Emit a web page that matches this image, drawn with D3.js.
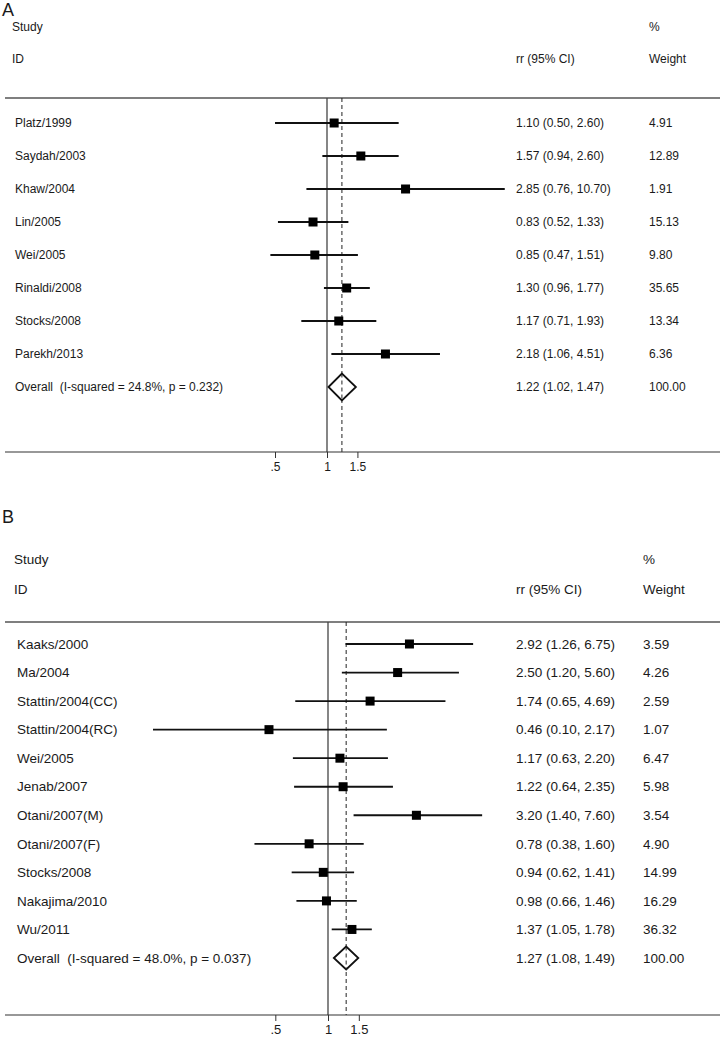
<!DOCTYPE html>
<html><head><meta charset="utf-8">
<script src="https://cdn.jsdelivr.net/npm/d3@7"></script>
<style>body{margin:0;background:#fff}svg{display:block}text{font-family:Arial,"Liberation Sans",sans-serif;fill:#1a1a1a;white-space:pre}</style>
</head><body>
<script>
// ---- Panel A data ----
const studiesA = ["Platz/1999","Saydah/2003","Khaw/2004","Lin/2005","Wei/2005","Rinaldi/2008","Stocks/2008","Parekh/2013"];
const rrA   = [1.10,1.57,2.85,0.83,0.85,1.30,1.17,2.18];
const lowA  = [0.50,0.94,0.76,0.52,0.47,0.96,0.71,1.06];
const highA = [2.60,2.60,10.70,1.33,1.51,1.77,1.93,4.51];
const weightA = ["4.91","12.89","1.91","15.13","9.80","35.65","13.34","6.36"];
const overallA = {label:"Overall  (I-squared = 24.8%, p = 0.232)", rr:1.22, low:1.02, high:1.47, weight:"100.00"};

// ---- Panel B data ----
const studiesB = ["Kaaks/2000","Ma/2004","Stattin/2004(CC)","Stattin/2004(RC)","Wei/2005","Jenab/2007","Otani/2007(M)","Otani/2007(F)","Stocks/2008","Nakajima/2010","Wu/2011"];
const rrB   = [2.92,2.50,1.74,0.46,1.17,1.22,3.20,0.78,0.94,0.98,1.37];
const lowB  = [1.26,1.20,0.65,0.10,0.63,0.64,1.40,0.38,0.62,0.66,1.05];
const highB = [6.75,5.60,4.69,2.17,2.20,2.35,7.60,1.60,1.41,1.46,1.78];
const weightB = ["3.59","4.26","2.59","1.07","6.47","5.98","3.54","4.90","14.99","16.29","36.32"];
const overallB = {label:"Overall  (I-squared = 48.0%, p = 0.037)", rr:1.27, low:1.08, high:1.49, weight:"100.00"};

const tickVals = [0.5, 1, 1.5];
const tickLabels = [".5", "1", "1.5"];

const fmt = d3.format(".2f");
const svg = d3.select("body").append("svg").attr("width",724).attr("height",1047);

function panel(cfg){
  const g = svg.append("g");
  const x = d3.scaleLog().domain([0.1,10]).range([cfg.x1 - cfg.k*Math.LN10, cfg.x1 + cfg.k*Math.LN10]);
  const n = cfg.studies.length;
  const y = d3.scaleLinear().domain([0,n]).range([cfg.rowStart, cfg.rowEnd]);
  const fs = cfg.fs;

  g.append("text").attr("x",cfg.letterX).attr("y",cfg.letterY).attr("font-size",18).text(cfg.letter);
  g.append("text").attr("x",cfg.labX-3).attr("y",cfg.hdr1).attr("dy","0.35em").attr("font-size",fs).text("Study");
  g.append("text").attr("x",cfg.labX-3).attr("y",cfg.hdr2).attr("dy","0.35em").attr("font-size",fs).text("ID");
  g.append("text").attr("x",cfg.valX).attr("y",cfg.hdr2).attr("dy","0.35em").attr("font-size",fs).text("rr (95% CI)");
  g.append("text").attr("x",cfg.wX).attr("y",cfg.hdr1).attr("dy","0.35em").attr("font-size",fs).text("%");
  g.append("text").attr("x",cfg.wX).attr("y",cfg.hdr2).attr("dy","0.35em").attr("font-size",fs).text("Weight");

  g.append("line").attr("x1",5).attr("x2",720).attr("y1",cfg.top).attr("y2",cfg.top).attr("stroke","#555").attr("stroke-width",1.5);
  g.append("line").attr("x1",x(1)).attr("x2",x(1)).attr("y1",cfg.top).attr("y2",cfg.axisY).attr("stroke","#444").attr("stroke-width",1.3);
  g.append("line").attr("x1",x(cfg.overall.rr)).attr("x2",x(cfg.overall.rr)).attr("y1",cfg.top).attr("y2",cfg.axisY)
    .attr("stroke","#222").attr("stroke-width",1).attr("stroke-dasharray","4,3");

  const axis = d3.axisBottom(x).tickValues(tickVals).tickFormat((d,i)=>tickLabels[i]).tickSize(6).tickSizeOuter(0);
  const ax = g.append("g").attr("transform",`translate(0,${cfg.axisY})`).call(axis);
  ax.select(".domain").remove();
  ax.selectAll(".tick line").attr("stroke","#333");
  ax.selectAll(".tick text").attr("font-size",cfg.tfs).attr("font-family","Arial,'Liberation Sans',sans-serif").attr("fill","#1a1a1a").attr("y",10);
  g.append("line").attr("x1",5).attr("x2",720).attr("y1",cfg.axisY).attr("y2",cfg.axisY).attr("stroke","#333").attr("stroke-width",1.2);

  const data = cfg.studies.map((s,i)=>({s, rr:cfg.rr[i], lo:cfg.low[i], hi:cfg.high[i], w:cfg.weight[i], i}));
  const rows = g.selectAll(".row").data(data).enter().append("g");
  rows.append("line").attr("x1",d=>x(d.lo)).attr("x2",d=>x(d.hi)).attr("y1",d=>y(d.i)).attr("y2",d=>y(d.i))
    .attr("stroke","#111").attr("stroke-width",cfg.ciw);
  rows.append("rect").attr("x",d=>x(d.rr)-4.5).attr("y",d=>y(d.i)-4.5).attr("width",9).attr("height",9).attr("fill","#000");
  rows.append("text").attr("x",cfg.labX).attr("y",d=>y(d.i)).attr("dy","0.35em").attr("font-size",fs).text(d=>d.s);
  rows.append("text").attr("x",cfg.valX).attr("y",d=>y(d.i)).attr("dy","0.35em").attr("font-size",fs)
    .text(d=>`${fmt(d.rr)} (${fmt(d.lo)}, ${fmt(d.hi)})`);
  rows.append("text").attr("x",cfg.wX).attr("y",d=>y(d.i)).attr("dy","0.35em").attr("font-size",fs).text(d=>d.w);

  const o = cfg.overall, oy = y(n);
  g.append("path").attr("d",`M${x(o.low)},${oy}L${x(o.rr)},${oy-cfg.dh}L${x(o.high)},${oy}L${x(o.rr)},${oy+cfg.dh}Z`)
    .attr("fill","#fff").attr("stroke","#111").attr("stroke-width",1.8);
  g.append("line").attr("x1",x(o.rr)).attr("x2",x(o.rr)).attr("y1",oy-cfg.dh).attr("y2",oy+cfg.dh)
    .attr("stroke","#222").attr("stroke-width",1).attr("stroke-dasharray","4,3");
  g.append("text").attr("x",cfg.labX).attr("y",oy).attr("dy","0.35em").attr("font-size",fs).text(o.label);
  g.append("text").attr("x",cfg.valX).attr("y",oy).attr("dy","0.35em").attr("font-size",fs).text(`${fmt(o.rr)} (${fmt(o.low)}, ${fmt(o.high)})`);
  g.append("text").attr("x",cfg.wX).attr("y",oy).attr("dy","0.35em").attr("font-size",fs).text(o.weight);
}

panel({letter:"A", letterX:2, letterY:16, studies:studiesA, rr:rrA, low:lowA, high:highA, weight:weightA, overall:overallA,
  x1:327, k:75, rowStart:123, rowEnd:387, top:98, axisY:452, hdr1:27, hdr2:59,
  labX:15, valX:516, wX:649, fs:12, tfs:12, ciw:2, dh:13.5});
panel({letter:"B", letterX:2, letterY:523, studies:studiesB, rr:rrB, low:lowB, high:highB, weight:weightB, overall:overallB,
  x1:328, k:76, rowStart:644, rowEnd:958, top:622, axisY:1015, hdr1:559, hdr2:589,
  labX:17, valX:516, wX:643, fs:13.5, tfs:13, ciw:1.8, dh:11.5});
</script>
</body></html>
